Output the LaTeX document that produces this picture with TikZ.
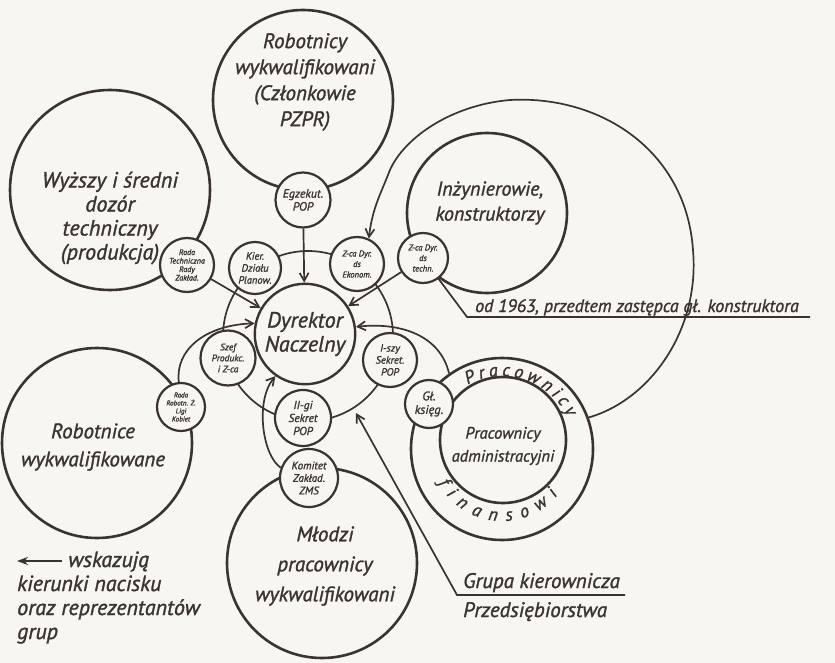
\documentclass[tikz,border=0pt]{standalone}
\usepackage{fontspec}
\setmainfont{PT Sans}[ItalicFeatures={FakeBold=1.3}]
\usetikzlibrary{arrows.meta,decorations.text,calc}
\definecolor{ink}{HTML}{3A3330}
\definecolor{paper}{HTML}{F8F6F1}
\begin{document}
\begin{tikzpicture}[x=1pt,y=-1pt,
  every node/.style={text=ink},
  bigc/.style={circle, draw=ink, line width=2.6pt, inner sep=0pt},
  smallc/.style={circle, draw=ink, fill=paper, line width=2.2pt, inner sep=0pt, align=center, font=\itshape\fontsize{8.5}{9.5}\selectfont},
  lbl/.style={align=center, inner sep=0pt, font=\itshape\fontsize{20}{25}\selectfont},
  note/.style={anchor=base west, inner sep=0pt, font=\itshape\fontsize{17}{17}\selectfont},
  con/.style={draw=ink, line width=1.7pt},
  arr/.style={con, -{Straight Barb[length=8pt,width=9pt,line width=1.7pt]}},
]
\fill[paper] (0,0) rectangle (835,663);
\useasboundingbox (0,0) rectangle (835,663);

% big group circles
\node[bigc, minimum size=180pt] (T) at (303,100) {};
\node[bigc, minimum size=200pt] (W) at (110,190) {};
\node[bigc, minimum size=160pt] (I) at (487,213) {};
\node[bigc, minimum size=190pt] (R) at (97,443) {};
\node[bigc, minimum size=190pt] (M) at (322,563) {};
\node[bigc, minimum size=182pt] (PO) at (502,449) {};
\node[bigc, minimum size=126pt] (PI) at (503,440) {};

% group labels
\node[lbl, font=\itshape\fontsize{21}{26}\selectfont] (Tt) at (305,82) {Robotnicy\\wykwalifikowani\\(Członkowie\\PZPR)};
\node[lbl, font=\itshape\fontsize{22}{24}\selectfont] (Wt) at (110,218) {Wyższy i średni\\dozór\\techniczny\\(produkcja)};
\node[lbl] (It) at (490,203) {Inżynierowie,\\konstruktorzy};
\node[lbl, font=\itshape\fontsize{21}{28}\selectfont] (Rt) at (93,447) {Robotnice\\wykwalifikowane};
\node[lbl, font=\itshape\fontsize{21}{30}\selectfont] (Mt) at (325,566) {Młodzi\\pracownicy\\wykwalifikowani};
\node[lbl, font=\itshape\fontsize{16.5}{23}\selectfont] (Pt) at (503,446) {Pracownicy\\administracyjni};

% text in the band of the finance workers
\path[decorate, decoration={text along path, text align=fit to path,
  text={|\itshape\fontsize{18}{18}\selectfont\color{ink}|Pracownicy}}]
  (502,449) ++(242:73) arc[start angle=242, end angle=334, radius=73];
\path[decorate, decoration={text along path, text align=fit to path,
  text={|\itshape\fontsize{18}{18}\selectfont\color{ink}|finansowi}}]
  (502,449) ++(152:72) arc[start angle=152, end angle=39, radius=72];

% ring of the managing group
\draw[con] (308,336) circle[radius=85];

% director
\node[circle, draw=ink, fill=paper, line width=2.4pt, minimum size=92pt, align=center,
  font=\itshape\fontsize{22}{24}\selectfont] (D) at (305,334) {Dyrektor\\Naczelny};

% representatives
\node[smallc, minimum size=55pt, font=\itshape\fontsize{12}{13}\selectfont] (E) at (303,200) {Egzekut.\\POP};
\node[smallc, minimum size=54pt, font=\itshape\fontsize{8}{8.5}\selectfont] (RT) at (187,265) {Rada\\Techniczna\\Rady\\Zakład.};
\node[smallc, minimum size=52pt, font=\itshape\fontsize{10.5}{12}\selectfont] (K) at (255,268) {Kier.\\Działu\\Planow.};
\node[smallc, minimum size=54pt, font=\itshape\fontsize{8.5}{10.5}\selectfont] (ZE) at (357,264) {Z-ca Dyr.\\ds\\Ekonom.};
\node[smallc, minimum size=50pt, font=\itshape\fontsize{8.5}{10.5}\selectfont] (ZT) at (423,258) {Z-ca Dyr.\\ds\\techn.};
\node[smallc, minimum size=55pt, font=\itshape\fontsize{9.5}{11}\selectfont] (SP) at (228,358) {Szef\\Produkc.\\i Z-ca};
\node[smallc, minimum size=54pt, font=\itshape\fontsize{10.5}{12}\selectfont] (IS) at (390,360) {I-szy\\Sekret.\\POP};
\node[smallc, minimum size=56pt, font=\itshape\fontsize{11.5}{13}\selectfont] (IIS) at (303,418) {II-gi\\Sekret\\POP};
\node[smallc, minimum size=58pt, font=\itshape\fontsize{11}{12.5}\selectfont] (KZ) at (309,478) {Komitet\\Zakład.\\ZMS};
\node[smallc, minimum size=48pt, font=\itshape\fontsize{7}{8}\selectfont] (LK) at (181,407) {Rada\\Robotn. Ż.\\Ligi\\Kobiet};
\node[smallc, minimum size=48pt, font=\itshape\fontsize{12.5}{13.5}\selectfont] (GK) at (429,404) {Gł.\\księg.};

% pressure arrows
\draw[arr] (E) -- (D);
\draw[arr] (RT) -- (D);
\draw[arr] (ZT) -- (D);
\draw[arr] (LK.95) .. controls (175,350) and (205,325) .. (D.168);
\draw[arr] (KZ.160) .. controls (262,455) and (255,400) .. (D.235);
\draw[arr] (PO.125) .. controls (440,335) and (400,322) .. (D.8);
\draw[arr] (PO.20) .. controls (650,400) and (700,330) .. (693,250)
  .. controls (686,150) and (600,95) .. (510,100)
  .. controls (450,105) and (400,140) .. (388,175)
  .. controls (380,195) and (372,210) .. (ZE.65);

% annotations
\coordinate (a1) at (467,317);
\coordinate (a2) at (810,317);
\draw[con] (ZT) -- (a1) -- (a2);
\node[note, font=\itshape\fontsize{18}{18}\selectfont] (ann) at (475,312) {od 1963, przedtem zastępca gł. konstruktora};

\coordinate (g0) at (356,413);
\coordinate (g1) at (457,595);
\coordinate (g2) at (625,595);
\draw[con, {Straight Barb[length=8pt,width=9pt,line width=1.7pt]}-] (g0) -- (g1) -- (g2);
\node[note, font=\itshape\fontsize{21}{21}\selectfont] (gt1) at (463,588) {Grupa kierownicza};
\node[note, font=\itshape\fontsize{21}{21}\selectfont] (gt2) at (463,617) {Przedsiębiorstwa};

% legend
\coordinate (l1) at (62,561);
\coordinate (l2) at (17,561);
\draw[con, line width=2pt, -{Stealth[length=11pt,width=8pt]}] (l1) -- (l2);
\node[note, font=\itshape\fontsize{22}{22}\selectfont] (lg1) at (68,567) {wskazują};
\node[note, font=\itshape\fontsize{22}{22}\selectfont] (lg2) at (17,591) {kierunki nacisku};
\node[note, font=\itshape\fontsize{22}{22}\selectfont] (lg3) at (17,615) {oraz reprezentantów};
\node[note, font=\itshape\fontsize{22}{22}\selectfont] (lg4) at (17,639) {grup};
\end{tikzpicture}
\end{document}
